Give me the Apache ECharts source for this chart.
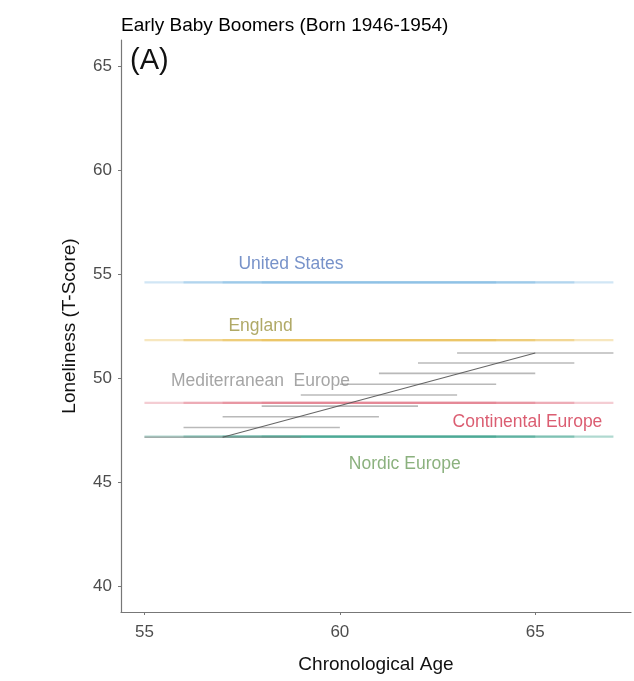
<!DOCTYPE html>
<html>
<head>
<meta charset="utf-8">
<script src="https://cdn.jsdelivr.net/npm/echarts@6/dist/echarts.min.js"></script>
<style>html,body{margin:0;padding:0;background:#fff}#c{width:634px;height:681px}</style>
</head>
<body>
<div id="c"></div>
<script>
// ---- data ----
var segStarts = [55, 56, 57, 58, 59, 60, 61, 62, 63];
var segLength = 4;
var medValues = [47.15, 47.62, 48.14, 48.65, 49.18, 49.7, 50.22, 50.72, 51.2];
var usValue = 54.6;
var englandValue = 51.82;
var continentalValue = 48.8;
var nordicValue = 47.18;
var regionNames = ["United States", "England", "Mediterranean  Europe", "Continental Europe", "Nordic Europe"];
var labelAges = [58.75, 57.97, 57.97, 64.8, 61.66];
var labelScores = [55.45, 52.5, 49.86, 47.88, 45.87];
var xTicks = [55, 60, 65];
var yTicks = [40, 45, 50, 55, 60, 65];
var titleText = "Early Baby Boomers (Born 1946-1954)";
var panelText = "(A)";

// ---- build ----
var FONT = 'Liberation Sans, Arial, sans-serif';
var series = [];
function segSeries(values, color, opacity, width, z) {
  segStarts.forEach(function (s, i) {
    var v = values[i];
    series.push({
      type: 'line', silent: true, symbol: 'none', z: z,
      data: [[s, v], [s + segLength, v]],
      lineStyle: { color: color, width: width, opacity: opacity }
    });
  });
}
function constArr(v) { return segStarts.map(function () { return v; }); }
segSeries(constArr(usValue), '#72b4e2', 0.33, 2.2, 2);
segSeries(constArr(englandValue), '#e9b949', 0.35, 2.2, 2);
segSeries(constArr(continentalValue), '#df6f80', 0.35, 2.2, 2);
segSeries(constArr(nordicValue), '#2f9a84', 0.38, 2.4, 2);
segSeries(medValues, '#8a8a8a', 0.6, 1.6, 3);
// trend through segment midpoints
series.push({
  type: 'line', silent: true, symbol: 'none', z: 4,
  data: [[segStarts[0] + segLength / 2, medValues[0]], [segStarts[segStarts.length - 1] + segLength / 2, medValues[medValues.length - 1]]],
  lineStyle: { color: '#555', width: 1.1, opacity: 0.9 }
});
var labelColors = ['#5577bb', '#9c9440', '#8f8f8f', '#d2354e', '#6e9e5e'];
series.push({
  type: 'scatter', silent: true, symbolSize: 0, z: 5,
  data: regionNames.map(function (n, i) {
    return {
      value: [labelAges[i], labelScores[i]],
      label: { show: true, position: 'inside', formatter: n, color: labelColors[i],
        fontSize: 17.5, fontFamily: FONT }
    };
  })
});

var chart = echarts.init(document.getElementById('c'), null, { renderer: 'canvas' });
chart.setOption({
  animation: false,
  backgroundColor: '#fff',
  title: [{ text: titleText, left: 116, top: 11,
      textStyle: { fontSize: 19, fontWeight: 'normal', color: '#000', fontFamily: FONT } },
    { text: panelText, left: 125, top: 41,
      textStyle: { fontSize: 29, fontWeight: 'normal', color: '#111', fontFamily: FONT } }],
  grid: { left: 121, right: 3, top: 40, bottom: 69, containLabel: false },
  xAxis: {
    type: 'value', min: 54.4, max: 67.45,
    name: 'Chronological Age', nameLocation: 'middle', nameGap: 43,
    nameTextStyle: { fontSize: 19, color: '#111', fontFamily: FONT },
    axisLine: { show: true, lineStyle: { color: '#777', width: 1.2 } },
    axisTick: { show: true, length: 3, customValues: xTicks, lineStyle: { color: '#777' } },
    axisLabel: { customValues: xTicks, fontSize: 17, color: '#4d4d4d', margin: 12, fontFamily: FONT },
    splitLine: { show: false }
  },
  yAxis: {
    type: 'value', min: 38.75, max: 66.25,
    name: 'Loneliness (T-Score)', nameLocation: 'middle', nameGap: 42, nameRotate: 90,
    nameTextStyle: { fontSize: 19, color: '#111', fontFamily: FONT },
    axisLine: { show: true, lineStyle: { color: '#777', width: 1.2 } },
    axisTick: { show: true, length: 3, customValues: yTicks, lineStyle: { color: '#777' } },
    axisLabel: { customValues: yTicks, fontSize: 17, color: '#4d4d4d', margin: 9, fontFamily: FONT },
    splitLine: { show: false }
  },
  series: series
});
</script>
</body>
</html>
